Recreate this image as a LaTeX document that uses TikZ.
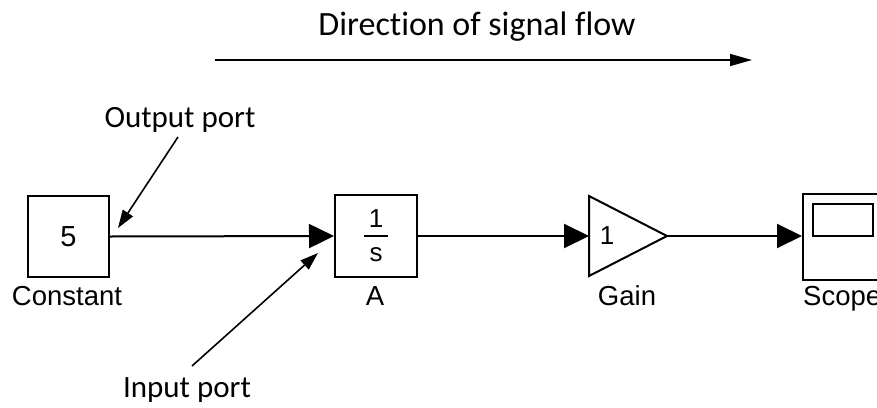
\documentclass[tikz,border=0pt]{standalone}
\usepackage{fontspec}
\setmainfont{Carlito}[Ligatures=NoCommon]
\newfontfamily\blockfont{Liberation Sans}
\usetikzlibrary{arrows.meta}
\begin{document}
\begin{tikzpicture}[x=1pt,y=-1pt,
  annot/.style={font=\fontsize{31}{36}\selectfont, inner sep=0pt, anchor=base},
  blabel/.style={font=\blockfont\fontsize{27.5}{30}\selectfont, inner sep=0pt, anchor=base},
  btext/.style={font=\blockfont\fontsize{26}{28}\selectfont, inner sep=0pt},
  blockbox/.style={draw, line width=2pt, inner sep=0pt},
  signal/.style={line width=2pt, -{Triangle[length=25pt,width=24pt]}},
  pointer/.style={line width=1.6pt, -{Triangle[length=18pt,width=12pt]}},
  flow/.style={line width=1.6pt, -{Triangle[length=22pt,width=12pt]}}]
\clip (0,0) rectangle (877,407);
\fill[white] (0,0) rectangle (877,407);
% title
\node[annot, font=\fontsize{34}{38}\selectfont] (title) at (477,35) {Direction of signal flow};
\coordinate (flowA) at (215,60);
\coordinate (flowB) at (752,60);
\draw[flow] (flowA) -- (flowB);
% constant
\node[blockbox, minimum width=81pt, minimum height=81pt] (const) at (68.5,236.5) {};
\node[font=\blockfont\fontsize{29}{30}\selectfont, inner sep=0pt] (five) at (68.5,236.5) {5};
\node[blabel] (constlbl) at (67,305) {Constant};
% integrator
\node[blockbox, minimum width=82pt, minimum height=82pt] (integ) at (376,236) {};
\node[btext] (num) at (376,219) {1};
\node[btext] (den) at (376,255) {s};
\coordinate (barL) at (364,236);
\coordinate (barR) at (388,236);
\draw[line width=2pt] (barL) -- (barR);
\node[blabel] (integlbl) at (375,305) {A};
% gain
\coordinate (gainin) at (589,236);
\coordinate (gainT) at (589,196);
\coordinate (gainB) at (589,276);
\coordinate (gainout) at (667,236);
\draw[line width=2pt, line join=miter] (gainT) -- (gainout) -- (gainB) -- cycle;
\node[btext] (gainval) at (607,236) {1};
\node[blabel] (gainlbl) at (627,305) {Gain};
% scope
\node[blockbox, minimum width=90pt, minimum height=86pt, anchor=north west] (scope) at (802,193) {};
\coordinate (scrA) at (813,204);
\coordinate (scrB) at (873,236);
\draw[line width=2pt] (scrA) rectangle (scrB);
\node[blabel, anchor=base west] (scopelbl) at (803,305) {Scope};
% signals
\draw[signal] (const.east) -- (integ.west);
\draw[signal] (integ.east) -- (gainin);
\draw[signal] (gainout) -- (scope.west |- gainout);
% annotations
\node[annot] (outlbl) at (180,127) {Output port};
\coordinate (outA) at (178,137);
\coordinate (outB) at (118,228);
\draw[pointer] (outA) -- (outB);
\node[annot] (inlbl) at (187,397) {Input port};
\coordinate (inA) at (192,366);
\coordinate (inB) at (318,253);
\draw[pointer] (inA) -- (inB);
\end{tikzpicture}
\end{document}
